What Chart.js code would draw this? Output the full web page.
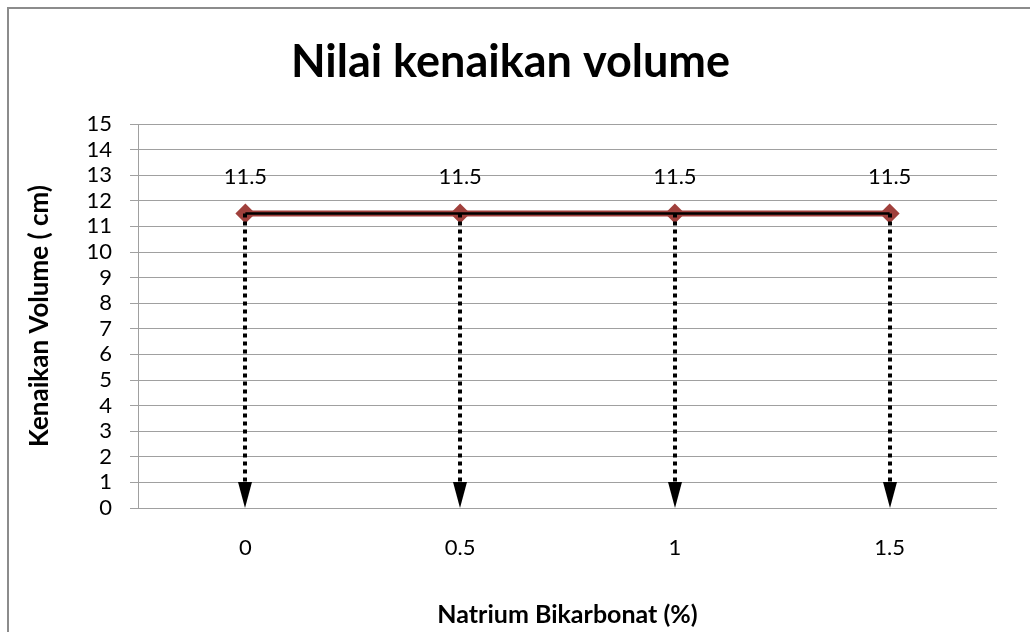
<!DOCTYPE html>
<html><head><meta charset="utf-8">
<script src="https://cdn.jsdelivr.net/npm/chart.js@4/dist/chart.umd.min.js"></script>
<style>
html,body{margin:0;padding:0;background:#fff;}
#wrap{position:relative;width:1030px;height:632px;overflow:hidden;}
#frame{position:absolute;left:7px;top:7px;width:1100px;height:700px;border-left:2px solid #8c8c8c;border-top:2px solid #8c8c8c;}
canvas{position:absolute;left:0;top:0;}
</style></head>
<body><div id="wrap"><div id="frame"></div><canvas id="c" width="1030" height="632"></canvas></div>
<script>
const categories = ['0', '0.5', '1', '1.5'];
const volumeValues = [11.5, 11.5, 11.5, 11.5];
const yTickValues = [0,1,2,3,4,5,6,7,8,9,10,11,12,13,14,15];
const titleText = 'Nilai kenaikan volume';
const xTitleText = 'Natrium Bikarbonat (%)';
const yTitleText = 'Kenaikan Volume ( cm)';

const FONT = 'Lato, "Liberation Sans", sans-serif';

const dropLines = {
  id: 'dropLines',
  afterDatasetsDraw(chart) {
    const ctx = chart.ctx;
    const meta = chart.getDatasetMeta(0);
    const yScale = chart.scales.y;
    const y0 = yScale.getPixelForValue(0);
    ctx.save();
    meta.data.forEach((pt) => {
      const x = Math.round(pt.x);
      const arrowH = 26;
      ctx.strokeStyle = '#000';
      ctx.lineWidth = 4;
      ctx.setLineDash([4, 4]);
      ctx.beginPath();
      ctx.moveTo(x, pt.y);
      ctx.lineTo(x, y0 - arrowH);
      ctx.stroke();
      ctx.setLineDash([]);
      ctx.fillStyle = '#000';
      ctx.beginPath();
      ctx.moveTo(x - 7, y0 - arrowH);
      ctx.lineTo(x + 7, y0 - arrowH);
      ctx.lineTo(x, y0);
      ctx.closePath();
      ctx.fill();
    });
    ctx.strokeStyle = '#000';
    ctx.lineWidth = 2.5;
    ctx.beginPath();
    meta.data.forEach((pt, i) => { if (i === 0) ctx.moveTo(pt.x, pt.y); else ctx.lineTo(pt.x, pt.y); });
    ctx.stroke();
    ctx.fillStyle = '#000';
    ctx.font = '22px ' + FONT;
    ctx.textAlign = 'center';
    ctx.textBaseline = 'middle';
    meta.data.forEach((pt, i) => {
      ctx.fillText(String(volumeValues[i]), pt.x, pt.y - 37);
    });
    ctx.restore();
  }
};

new Chart(document.getElementById('c'), {
  type: 'line',
  data: {
    labels: categories,
    datasets: [{
      data: volumeValues,
      borderColor: '#A0403C',
      borderWidth: 6,
      pointStyle: 'rectRot',
      pointRadius: 10,
      pointBackgroundColor: '#A0403C',
      pointBorderColor: '#A0403C',
      pointBorderWidth: 0,
      tension: 0
    }]
  },
  options: {
    responsive: false,
    animation: false,
    devicePixelRatio: 1,
    layout: { padding: { left: 24, right: 33, top: 22, bottom: 0 } },
    plugins: {
      legend: { display: false },
      tooltip: { enabled: false },
      title: {
        display: true,
        text: titleText,
        color: '#000',
        font: { family: FONT, size: 45, weight: 'bold' },
        padding: { top: 13, bottom: 35 }
      }
    },
    scales: {
      x: {
        offset: true,
        grid: { display: false, drawTicks: false },
        border: { display: false },
        ticks: { color: '#000', font: { family: FONT, size: 22 }, padding: 27, autoSkip: false },
        title: { display: true, text: xTitleText, color: '#000', font: { family: FONT, size: 25, weight: 'bold' }, padding: { top: 14, bottom: 2 } },
        afterFit(s) { s.height = 124; }
      },
      y: {
        min: 0, max: 15,
        afterBuildTicks(s) { s.ticks = yTickValues.map(v => ({ value: v })); },
        grid: { color: '#a0a0a0', lineWidth: 1, tickLength: 8, tickColor: '#a0a0a0' },
        border: { color: '#a0a0a0', width: 1 },
        ticks: { color: '#000', font: { family: FONT, size: 22, lineHeight: 1 }, padding: 18, autoSkip: false },
        title: { display: true, text: yTitleText, color: '#000', font: { family: FONT, size: 26, weight: 'bold' }, padding: { top: 0, bottom: 8 } },
        afterFit(s) { s.width = 114; }
      }
    }
  },
  plugins: [dropLines]
});
</script>
</body></html>
